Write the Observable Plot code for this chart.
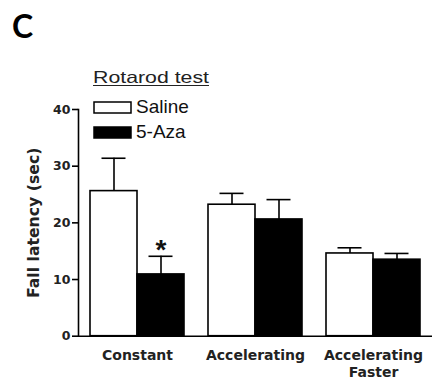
<!DOCTYPE html>
<html>
<head>
<meta charset="utf-8">
<script src="https://cdn.jsdelivr.net/npm/d3@7"></script>
<script src="https://cdn.jsdelivr.net/npm/@observablehq/plot@0.6"></script>
<style>
  html, body { margin: 0; padding: 0; background: #fff; }
  #wrap { position: relative; width: 432px; height: 383px; }
  #overlay { position: absolute; left: 0; top: 0; pointer-events: none; }
</style>
</head>
<body>
<div id="wrap"><div id="chart"></div></div>
<script>
// ---- data ----
const categories = ["Constant", "Accelerating", "Accelerating Faster"];
const categoryLabels = ["Constant", "Accelerating", "Accelerating\nFaster"];
const groups = ["Saline", "5-Aza"];
const salineMean = [25.6, 23.2, 14.6];
const salineSem = [5.8, 2.0, 1.0];
const azaMean = [10.9, 20.6, 13.5];
const azaSem = [3.2, 3.5, 1.1];
const yTicks = [0, 10, 20, 30, 40];
const significance = [{category: "Constant", group: "5-Aza", label: "*"}];
const panelLetter = "C";
const legendTitle = "Rotarod test";
const yLabel = "Fall latency (sec)";

// ---- table built from arrays ----
const rows = [];
categories.forEach((c, i) => {
  rows.push({category: c, group: groups[0], mean: salineMean[i], sem: salineSem[i]});
  rows.push({category: c, group: groups[1], mean: azaMean[i], sem: azaSem[i]});
});
const rowOf = (c, g) => rows.find(r => r.category === c && r.group === g);
const sigRows = significance.map(s => ({...s, top: rowOf(s.category, s.group).mean + rowOf(s.category, s.group).sem}));
const labelOf = Object.fromEntries(categories.map((c, i) => [c, categoryLabels[i]]));

const plot = Plot.plot({
  width: 432,
  height: 383,
  marginTop: 109,
  marginBottom: 47.3,
  marginLeft: 77,
  marginRight: 0,
  style: {background: "transparent", fontFamily: "DejaVu Sans", color: "#000"},
  fx: {domain: categories, padding: 0, axis: null},
  x: {domain: groups, paddingInner: 0, paddingOuter: 0.233, axis: null},
  y: {domain: [0, 40], axis: null},
  color: {domain: groups, range: ["#ffffff", "#000000"]},
  marks: [
    Plot.barY(rows, {fx: "category", x: "group", y: "mean", fill: "group", stroke: "#000", strokeWidth: 1.6}),
    Plot.ruleX(rows, {fx: "category", x: "group", y1: "mean", y2: d => d.mean + d.sem, stroke: "#000", strokeWidth: 1.6}),
    Plot.tickY(rows, {fx: "category", x: "group", y: d => d.mean + d.sem, stroke: "#000", strokeWidth: 1.6, insetLeft: 11.5, insetRight: 11.5}),
    Plot.ruleY([0], {stroke: "#000", strokeWidth: 1.6}),
    Plot.text(sigRows, {fx: "category", x: "group", y: "top", text: "label", dy: -6, fontSize: 28, fontWeight: "bold", fontFamily: "Liberation Sans", lineAnchor: "middle", fill: "#111"}),
    Plot.frame({anchor: "left", facetAnchor: "left", stroke: "#000", strokeWidth: 1.6}),
    Plot.axisY({ticks: yTicks, tickSize: 6, tickPadding: 2, strokeWidth: 1.6, fontSize: 12.5, fontWeight: "bold", fill: "#222",
      label: yLabel, labelAnchor: "center", labelOffset: 51, labelArrow: "none"}),
    Plot.axisFx({anchor: "bottom", tickSize: 0, tickPadding: 12, tickFormat: d => labelOf[d], fontSize: 14, fontWeight: "bold", fill: "#222", lineHeight: 1.2, label: null})
  ]
});
document.getElementById("chart").appendChild(plot);

// axis title styling (bigger font than tick labels)
d3.select(plot).selectAll("g[aria-label='y-axis label'] text").style("font-size", "15.7px").style("font-weight", "bold");

// ---- overlay: panel letter and legend ----
const ns = "http://www.w3.org/2000/svg";
const ov = d3.select("#wrap").append("svg").attr("id", "overlay").attr("width", 432).attr("height", 383);
ov.append("text").attr("x", 12).attr("y", 38).text(panelLetter)
  .style("font-family", "Lato, 'Open Sans', sans-serif").style("font-weight", "bold").style("font-size", "32px");
ov.append("text").attr("x", 93).attr("y", 83).text(legendTitle)
  .attr("textLength", 116).attr("lengthAdjust", "spacingAndGlyphs")
  .style("font-family", "'Liberation Sans', Arial, sans-serif").style("font-size", "16.5px").style("fill", "#222");
ov.append("line").attr("x1", 93).attr("x2", 209).attr("y1", 85.5).attr("y2", 85.5).attr("stroke", "#222").attr("stroke-width", 1.2);
const legendRows = groups.map((g, i) => ({g, fill: i === 0 ? "#ffffff" : "#000000", top: 102 + i * 25}));
legendRows.forEach(r => {
  ov.append("rect").attr("x", 94).attr("y", r.top).attr("width", 37).attr("height", 11)
    .attr("fill", r.fill).attr("stroke", "#000").attr("stroke-width", 1.5);
  ov.append("text").attr("x", 136).attr("y", r.top + 10.5).text(r.g)
    .style("font-family", "'Liberation Sans', Arial, sans-serif").style("font-size", "19px").style("fill", "#111");
});
</script>
</body>
</html>
